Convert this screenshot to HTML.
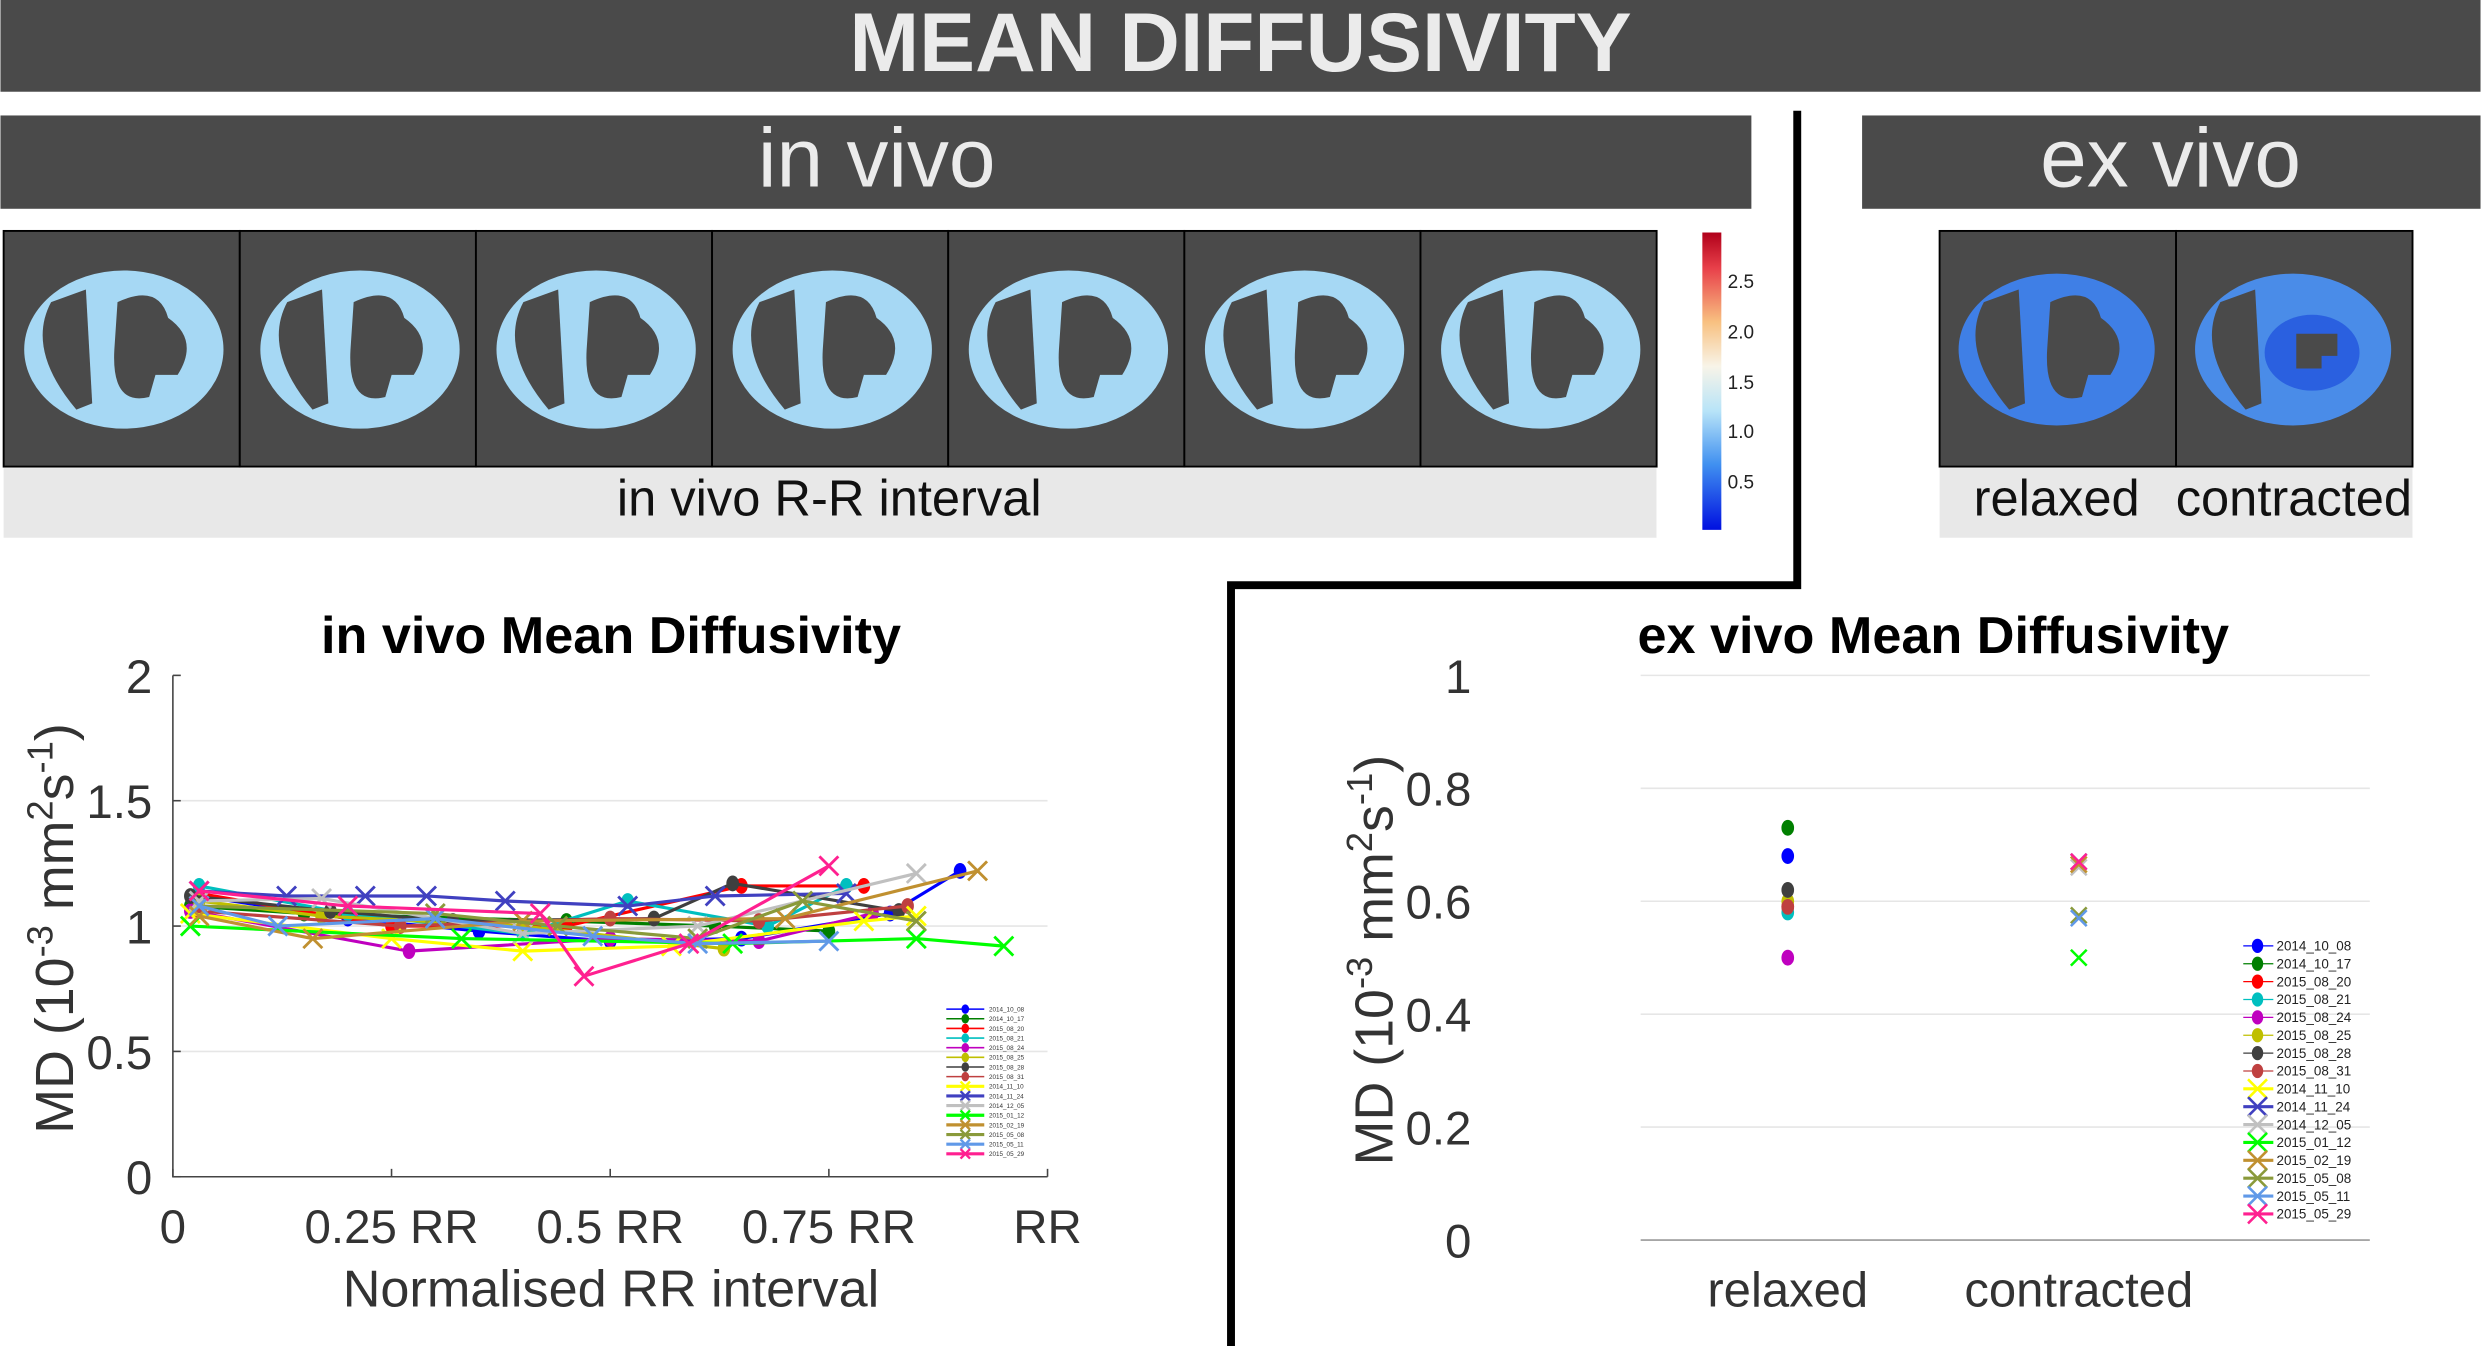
<!DOCTYPE html>
<html><head><meta charset="utf-8"><style>
html,body{margin:0;padding:0;background:#fff}
svg{display:block}
text{font-family:"Liberation Sans",sans-serif}
</style></head><body>
<svg id="fig" width="2481" height="1346" viewBox="0 0 1568 851" xmlns="http://www.w3.org/2000/svg">
<defs>
<linearGradient id="cbar" x1="0" y1="0" x2="0" y2="1">
<stop offset="0" stop-color="#b0001a"/><stop offset="0.12" stop-color="#e8404a"/><stop offset="0.3" stop-color="#f8c080"/><stop offset="0.45" stop-color="#f8f4e8"/><stop offset="0.6" stop-color="#b8e4f8"/><stop offset="0.78" stop-color="#4090f0"/><stop offset="1" stop-color="#0010e0"/>
</linearGradient>
</defs>
<rect x="0" y="0" width="1568" height="58" fill="#4a4a4a"/>
<text x="784" y="45" text-anchor="middle" font-size="53" font-weight="bold" fill="#ebebeb">MEAN DIFFUSIVITY</text>
<rect x="0" y="73" width="1107" height="59" fill="#4a4a4a"/>
<text x="554" y="118" text-anchor="middle" font-size="53" fill="#ebebeb">in vivo</text>
<rect x="1177" y="73" width="391" height="59" fill="#4a4a4a"/>
<text x="1372" y="118" text-anchor="middle" font-size="53" fill="#ebebeb">ex vivo</text>
<g id="invivoImgs"></g>
<g id="exvivoImgs"></g>
<rect x="2" y="296" width="1045" height="44" fill="#e8e8e8"/>
<text x="524" y="326" text-anchor="middle" font-size="32" fill="#111">in vivo R-R interval</text>
<rect x="1226" y="296" width="299" height="44" fill="#e8e8e8"/>
<text x="1300" y="326" text-anchor="middle" font-size="32" fill="#111">relaxed</text>
<text x="1450" y="326" text-anchor="middle" font-size="32" fill="#111">contracted</text>
<g>
<rect x="1076" y="147" width="12" height="188" fill="url(#cbar)"/>
<g font-size="12" fill="#222"><text x="1092" y="182">2.5</text><text x="1092" y="214">2.0</text><text x="1092" y="246">1.5</text><text x="1092" y="277">1.0</text><text x="1092" y="309">0.5</text></g>
</g>
<path d="M1136 70 V370 H778 V851" fill="none" stroke="#000" stroke-width="5"/>
<g id="chart1"></g>
<g id="chart2"></g>
</svg>
<script>
const NS='http://www.w3.org/2000/svg';
function mk(tag,attrs,parent){const e=document.createElementNS(NS,tag);for(const k in attrs)e.setAttribute(k,attrs[k]);parent.appendChild(e);return e;}

const seriesNames=['2014_10_08','2014_10_17','2015_08_20','2015_08_21','2015_08_24','2015_08_25','2015_08_28','2015_08_31','2014_11_10','2014_11_24','2014_12_05','2015_01_12','2015_02_19','2015_05_08','2015_05_11','2015_05_29'];
const seriesColors=['#0000ff','#007f00','#ff0000','#00bfbf','#bf00bf','#bfbf00','#3f3f3f','#bf4040','#ffff00','#4040c0','#c0c0c0','#00ff00','#c09030','#8a9a3a','#6099e8','#ff2090'];
const seriesMarkers=['o','o','o','o','o','o','o','o','x','x','x','x','x','x','x','x'];
const rrX=[
[0.03,0.2,0.35,0.5,0.65,0.82,0.9],
[0.02,0.15,0.45,0.62,0.75],
[0.03,0.25,0.45,0.65,0.79],
[0.03,0.2,0.4,0.52,0.68,0.77],
[0.02,0.27,0.5,0.67,0.8],
[0.03,0.17,0.4,0.63],
[0.02,0.18,0.32,0.55,0.64,0.83],
[0.03,0.26,0.5,0.67,0.84],
[0.02,0.25,0.4,0.57,0.79,0.85],
[0.03,0.13,0.22,0.29,0.38,0.52,0.62,0.77],
[0.03,0.17,0.4,0.6,0.85],
[0.02,0.33,0.64,0.85,0.95],
[0.03,0.16,0.4,0.7,0.92],
[0.03,0.3,0.44,0.6,0.72,0.85],
[0.03,0.12,0.3,0.48,0.6,0.75],
[0.03,0.2,0.42,0.47,0.59,0.75]];
const mdY=[
[1.12,1.03,0.98,0.94,0.95,1.05,1.22],
[1.08,1.05,1.02,1.0,0.98],
[1.13,1.0,1.0,1.16,1.16],
[1.16,1.05,0.97,1.1,1.0,1.16],
[1.06,0.9,0.95,0.94,1.05],
[1.1,1.04,1.0,0.91],
[1.12,1.06,1.02,1.03,1.17,1.06],
[1.06,1.0,1.03,1.02,1.08],
[1.05,0.95,0.9,0.92,1.02,1.04],
[1.14,1.12,1.12,1.12,1.1,1.08,1.12,1.13],
[1.1,1.11,0.97,1.0,1.21],
[1.0,0.95,0.93,0.95,0.92],
[1.04,0.95,1.02,1.03,1.22],
[1.08,1.05,1.0,0.95,1.1,1.02],
[1.08,1.0,1.03,0.96,0.93,0.94],
[1.14,1.08,1.05,0.8,0.93,1.24]];
const yTicks1=[0,0.5,1,1.5,2];
const yTickLabels1=['0','0.5','1','1.5','2'];
const xTicks1=[0,0.25,0.5,0.75,1];
const xTickLabels1=['0','0.25 RR','0.5 RR','0.75 RR','RR'];
const exCategories=['relaxed','contracted'];
const exRelaxed=[0.68,0.73,0.59,0.58,0.5,0.6,0.62,0.59,null,null,null,null,null,null,null,null];
const exContracted=[null,null,null,null,null,null,null,null,0.665,0.67,0.66,0.5,0.665,0.575,0.57,0.67];
const yTicks2=[0,0.2,0.4,0.6,0.8,1];
const yTickLabels2=['0','0.2','0.4','0.6','0.8','1'];

function marker(g,type,x,y,color,r,w){
  if(type==='o'){return mk('ellipse',{cx:x,cy:y,rx:r*0.8,ry:r,fill:color},g);}
  return mk('path',{d:`M${x-r} ${y-r}L${x+r} ${y+r}M${x-r} ${y+r}L${x+r} ${y-r}`,stroke:color,'stroke-width':w,fill:'none'},g);
}

function heart(g,cx,cy,variant,ex){
  const fillC=ex?(variant?'#4a8ce8':'#3f7fe6'):'#a6d8f4';
  mk('ellipse',{cx:cx,cy:cy,rx:ex?62:63,ry:ex?48:50,fill:fillC},g);
  mk('path',{d:`M${cx-46} ${cy-30} Q${cx-62} ${cy} ${cx-30} ${cy+38} L${cx-20} ${cy+34} L${cx-24} ${cy-38} Z`,fill:'#4a4a4a'},g);
  if(ex&&variant){mk('ellipse',{cx:cx+12,cy:cy+2,rx:30,ry:24,fill:'#2a60e0'},g);mk('path',{d:`M${cx+2} ${cy-10} h26 v14 h-10 v8 h-16 Z`,fill:'#4a4a4a'},g);}
  else mk('path',{d:`M${cx-4} ${cy-30} Q${cx+22} ${cy-42} ${cx+28} ${cy-20} Q${cx+48} ${cy-6} ${cx+34} ${cy+16} L${cx+20} ${cy+16} L${cx+16} ${cy+30} Q${cx-8} ${cy+36} ${cx-6} ${cy} Z`,fill:'#4a4a4a'},g);
}
const ivg=document.getElementById('invivoImgs');
for(let i=0;i<7;i++){
  const x=2+i*149.3;
  const p=mk('g',{},ivg);
  
  
  mk('rect',{x:x,y:146,width:149.3,height:149,fill:'#4a4a4a',stroke:'#000','stroke-width':1.2},p);
  heart(p,x+76,221,i,false);
}
const evg=document.getElementById('exvivoImgs');
for(let i=0;i<2;i++){
  const x=1226+i*149.5;
  const p=mk('g',{},evg);
  
  
  mk('rect',{x:x,y:146,width:149.5,height:149,fill:'#4a4a4a',stroke:'#000','stroke-width':1.2},p);
  heart(p,x+74,221,i,true);
}

const ytitle='MD (10<tspan dy="-13" font-size="23">-3</tspan><tspan dy="13"> mm</tspan><tspan dy="-13" font-size="23">2</tspan><tspan dy="13">s</tspan><tspan dy="-13" font-size="23">-1</tspan><tspan dy="13">)</tspan>';

(function(){
  const g=document.getElementById('chart1');
  const X0=109,X1=662,Y0=744,Y1=427;
  const sx=v=>X0+v*(X1-X0), sy=v=>Y0-(v/2)*(Y0-Y1);
  yTicks1.forEach((t,i)=>{
    if(t>0&&t<2){const l=mk('line',{x1:X0,x2:X1,y1:sy(t),y2:sy(t),stroke:'#e6e6e6','stroke-width':1},g);}
    mk('line',{x1:X0,x2:X0+5,y1:sy(t),y2:sy(t),stroke:'#444'},g);
    const tx=mk('text',{x:96,y:sy(t)+11,'text-anchor':'end','font-size':30,fill:'#333'},g);tx.textContent=yTickLabels1[i];
    
    
  });
  xTicks1.forEach((t,i)=>{
    mk('line',{x1:sx(t),x2:sx(t),y1:Y0,y2:Y0-5,stroke:'#444'},g);
    const tx=mk('text',{x:sx(t),y:786,'text-anchor':'middle','font-size':30,fill:'#333'},g);tx.textContent=xTickLabels1[i];
    
    
  });
  mk('path',{d:`M${X0} ${Y1}V${Y0}H${X1}`,fill:'none',stroke:'#444','stroke-width':1},g);
  const t=mk('text',{x:386,y:413,'text-anchor':'middle','font-size':33,'font-weight':'bold',fill:'#000'},g);t.textContent='in vivo Mean Diffusivity';
  
  
  const xl=mk('text',{x:386,y:826,'text-anchor':'middle','font-size':33,fill:'#333'},g);xl.textContent='Normalised RR interval';
  
  
  const yl=mk('text',{x:0,y:0,'text-anchor':'middle','font-size':34,fill:'#333',transform:'translate(46,587) rotate(-90)'},g);
  yl.innerHTML=ytitle;
  
  
  seriesNames.forEach((n,s)=>{
    const sg=mk('g',{},g);
    
    
    const pts=rrX[s].map((x,i)=>sx(x)+','+sy(mdY[s][i])).join(' ');
    mk('polyline',{points:pts,fill:'none',stroke:seriesColors[s],'stroke-width':2},sg);
    rrX[s].forEach((x,i)=>{
      const m=marker(sg,seriesMarkers[s],sx(x),sy(mdY[s][i]),seriesColors[s],seriesMarkers[s]==='o'?5:6,1.8);
      
      
    });
  });
  const lg=mk('g',{},g);
  
  
  seriesNames.forEach((n,s)=>{
    const y=638+s*6.1;
    const e=mk('g',{},lg);
    
    
    mk('line',{x1:598,x2:622,y1:y,y2:y,stroke:seriesColors[s],'stroke-width':s>7?2:1},e);
    marker(e,seriesMarkers[s],610,y,seriesColors[s],3,1.5);
    const tx=mk('text',{x:625,y:y+1.5,'font-size':4,fill:'#333'},e);tx.textContent=n;
  });
})();

(function(){
  const g=document.getElementById('chart2');
  const X0=1037,X1=1498,Y0=784,Y1=427;
  const cx=[1130,1314];
  const sy=v=>Y0-v*(Y0-Y1);
  yTicks2.forEach((t,i)=>{
    if(t>0){const l=mk('line',{x1:X0,x2:X1,y1:sy(t),y2:sy(t),stroke:'#e6e6e6','stroke-width':1},g);}
    const tx=mk('text',{x:930,y:sy(t)+11,'text-anchor':'end','font-size':30,fill:'#333'},g);tx.textContent=yTickLabels2[i];
    
    
  });
  mk('line',{x1:X0,x2:X1,y1:Y0,y2:Y0,stroke:'#999','stroke-width':1},g);
  exCategories.forEach((c,i)=>{
    const tx=mk('text',{x:cx[i],y:826,'text-anchor':'middle','font-size':31,fill:'#333'},g);tx.textContent=c;
    
    
  });
  const t=mk('text',{x:1222,y:413,'text-anchor':'middle','font-size':33,'font-weight':'bold',fill:'#000'},g);t.textContent='ex vivo Mean Diffusivity';
  
  
  const yl=mk('text',{x:0,y:0,'text-anchor':'middle','font-size':34,fill:'#333',transform:'translate(880,607) rotate(-90)'},g);
  yl.innerHTML=ytitle;
  
  
  [exRelaxed,exContracted].forEach((arr,ci)=>{
    arr.forEach((v,s)=>{
      if(v===null)return;
      const m=marker(g,seriesMarkers[s],cx[ci],sy(v),seriesColors[s],5,1.6);
      
      
    });
  });
  const lg=mk('g',{},g);
  
  
  seriesNames.forEach((n,s)=>{
    const y=598+s*11.3;
    const e=mk('g',{},lg);
    
    
    mk('line',{x1:1418,x2:1437,y1:y,y2:y,stroke:seriesColors[s],'stroke-width':s>7?2:0.8},e);
    marker(e,seriesMarkers[s],1427,y,seriesColors[s],s>7?6:4.5,1.6);
    const tx=mk('text',{x:1439,y:y+3,'font-size':8.5,fill:'#222'},e);tx.textContent=n;
  });
})();
</script>
</body></html>
